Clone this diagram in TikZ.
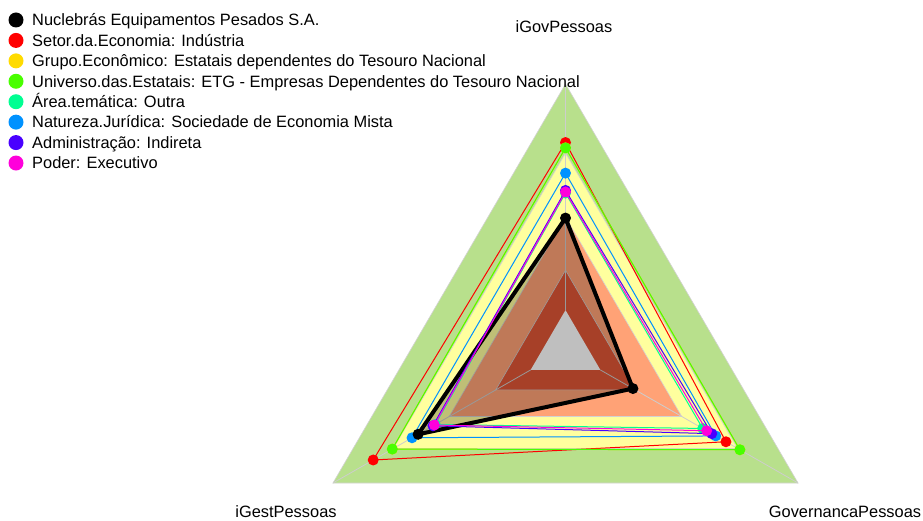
\documentclass[tikz,border=0pt]{standalone}
\usepackage{fontspec}
\setmainfont{Liberation Sans}
\definecolor{bandgreen}{RGB}{184,224,140}
\definecolor{bandyellow}{RGB}{255,255,158}
\definecolor{bandorange}{RGB}{255,162,118}
\definecolor{bandred}{RGB}{224,86,54}
\definecolor{sred}{HTML}{FF0000}
\definecolor{sgold}{HTML}{FFDB00}
\definecolor{slime}{HTML}{49FF00}
\definecolor{sspring}{HTML}{00FF92}
\definecolor{sazure}{HTML}{0092FF}
\definecolor{sindigo}{HTML}{4900FF}
\definecolor{smagenta}{HTML}{FF00DB}
\definecolor{axisgray}{RGB}{205,205,205}
\newcommand\radarseries[5]{%
  \coordinate (#1t) at (90:#3);
  \coordinate (#1l) at (210:#4);
  \coordinate (#1r) at (330:#5);
  \draw[#2, line width=1pt] (#1t) -- (#1l) -- (#1r) -- cycle;
  \fill[#2] (#1t) circle[radius=5.5pt];
  \fill[#2] (#1l) circle[radius=5.5pt];
  \fill[#2] (#1r) circle[radius=5.5pt];
}
\begin{document}
\begin{tikzpicture}[x=1pt,y=1pt,
  lbl/.style={font=\fontsize{16.4}{19}\selectfont, inner sep=0pt},
  legtext/.style={lbl, anchor=base west},
  band/.style={draw=gray!35, line width=0.6pt},
  axisline/.style={draw=axisgray, line width=0.8pt}]
\useasboundingbox (0,0) rectangle (923,-521);
\fill[white] (0,0) rectangle (923,-521);

\begin{scope}[shift={(565.5,-350)}, x=268.5pt, y=266pt]
  \coordinate (O) at (0,0);
  \coordinate (ct) at (90:0.15);
  \coordinate (cl) at (210:0.15);
  \coordinate (cr) at (330:0.15);
  \coordinate (vt) at (90:1);
  \coordinate (vl) at (210:1);
  \coordinate (vr) at (330:1);
  \foreach \r/\c in {1/bandgreen, 0.74/bandyellow, 0.5/bandorange, 0.3/bandred}
    \filldraw[band, fill=\c] (90:\r) -- (210:\r) -- (330:\r) -- cycle;
  \draw[axisline] (ct) -- (vt);
  \draw[axisline] (cl) -- (vl);
  \draw[axisline] (cr) -- (vr);
  \fill[white] (ct) -- (cl) -- (cr) -- cycle;
  % black series fill
  \coordinate (kt) at (90:0.496);
  \coordinate (kl) at (210:0.634);
  \coordinate (kr) at (330:0.29);
  \fill[black, fill opacity=0.25] (kt) -- (kl) -- (kr) -- cycle;
  \radarseries{r}{sred}{0.78}{0.827}{0.69}
  \radarseries{g}{sgold}{0.76}{0.745}{0.75}
  \radarseries{l}{slime}{0.76}{0.745}{0.75}
  \radarseries{s}{sspring}{0.59}{0.56}{0.59}
  \radarseries{b}{sazure}{0.665}{0.66}{0.646}
  \draw[black, line width=4pt, line join=round] (kt) -- (kl) -- (kr) -- cycle;
  \fill[black] (kt) circle[radius=5.5pt];
  \fill[black] (kl) circle[radius=5.5pt];
  \fill[black] (kr) circle[radius=5.5pt];
  \radarseries{i}{sindigo}{0.60}{0.57}{0.629}
  \radarseries{m}{smagenta}{0.594}{0.564}{0.607}
\end{scope}

% axis labels
\node[lbl, anchor=base] (labt) at (564,-33) {iGovPessoas};
\node[lbl, anchor=base] (labl) at (286,-517) {iGestPessoas};
\node[lbl, anchor=base] (labr) at (845,-517) {GovernancaPessoas};

% legend
\foreach \i/\c/\t in {0/black/Nuclebrás Equipamentos Pesados S.A.,
  1/sred/Setor.da.Economia: Indústria,
  2/sgold/Grupo.Econômico: Estatais dependentes do Tesouro Nacional,
  3/slime/Universo.das.Estatais: ETG - Empresas Dependentes do Tesouro Nacional,
  4/sspring/Área.temática: Outra,
  5/sazure/Natureza.Jurídica: Sociedade de Economia Mista,
  6/sindigo/Administração: Indireta,
  7/smagenta/Poder: Executivo} {
  \fill[\c] (16,-20-20.43*\i) circle[radius=7.5];
  \node[legtext] (leg\i) at (32,-25.8-20.43*\i) {\t};
}
\end{tikzpicture}
\end{document}
